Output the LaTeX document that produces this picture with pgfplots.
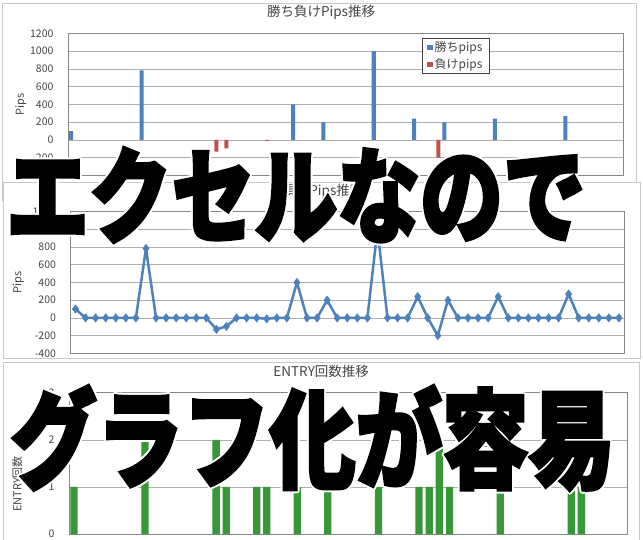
\documentclass[border=0pt]{standalone}
\usepackage{fontspec}
\setmainfont{Noto Sans CJK JP}
\newfontfamily\heavy[FakeBold=3]{Noto Sans CJK JP}
\usepackage{pgfplots}
\pgfplotsset{compat=1.18}
\usepackage{pgfplotstable}

\definecolor{xlblue}{RGB}{79,129,189}
\definecolor{xlred}{RGB}{192,80,77}
\definecolor{xlgreen}{RGB}{56,152,56}
\definecolor{gridgray}{RGB}{175,175,175}
\definecolor{axisgray}{RGB}{134,134,134}
\definecolor{framegray}{RGB}{200,200,200}
\definecolor{textgray}{RGB}{70,70,70}

\pgfplotstableread{
x win
1 100
8 785
23 400
26 200
31 1000
35 240
38 200
43 240
50 270
}\wintable

\pgfplotstableread{
x loss
15 -130
16 -95
20 -10
37 -200
}\losstable

\pgfplotstableread{
x pips
1 100
2 0
3 0
4 0
5 0
6 0
7 0
8 785
9 0
10 0
11 0
12 0
13 0
14 0
15 -130
16 -95
17 0
18 0
19 0
20 -10
21 0
22 0
23 400
24 0
25 0
26 200
27 0
28 0
29 0
30 0
31 1000
32 0
33 0
34 0
35 240
36 0
37 -200
38 200
39 0
40 0
41 0
42 0
43 240
44 0
45 0
46 0
47 0
48 0
49 0
50 270
51 0
52 0
53 0
54 0
55 0
}\pipstable

\pgfplotstableread{
x n
1 1
8 2
15 2
16 1
19 1
20 1
23 1
26 1
31 1
35 1
36 1
37 2
38 1
43 1
50 1
51 1
}\entrytable

\pgfplotsset{
  excel/.style={
    scale only axis,
    anchor=north west,
    axis background/.style={fill=white},
    xmin=0.5, xmax=55.5,
    xtick=\empty,
    ymajorgrids,
    grid style={draw=gridgray, line width=0.6pt},
    axis line style={draw=axisgray, line width=0.8pt},
    major tick length=0pt,
    ytick pos=left,
    yticklabel style={font=\fontsize{10.5}{10.5}\selectfont, text=textgray, anchor=east, xshift=-11pt},
    /pgf/number format/assume math mode=true,
    /pgf/number format/set thousands separator={},
    title style={font=\fontsize{13.5}{14}\selectfont, text=textgray, anchor=center},
    every axis y label/.style={rotate=90, anchor=center, font=\fontsize{11}{11}\selectfont, text=textgray},
    clip=false,
  }
}

\newcommand\ovA{エクセルなので}
\newcommand\ovB{グラフ化が容易}

\begin{document}
\begin{tikzpicture}
\useasboundingbox (0pt,0pt) rectangle (643pt,-540pt);
\clip (0pt,0pt) rectangle (643pt,-540pt);
\fill[white] (0pt,0pt) rectangle (643pt,-540pt);

% ---------- panel 1 ----------
\draw[framegray, fill=white, line width=0.8pt] (2pt,-3pt) rectangle (636pt,-200pt);
\begin{axis}[excel,
  at={(68pt,-33.5pt)}, width=555pt, height=142pt,
  ymin=-400, ymax=1200, ytick={-400,-200,...,1200},
  ybar, bar width=0.4,
  title={勝ち負けPips推移}, title style={at={(0.456,1.106)}},
  ylabel={Pips}, ylabel style={at={(-0.085,0.5)}},
  legend style={at={(0.638,0.968)}, anchor=north west, draw=black!75, fill=white,
    font=\fontsize{12}{13}\selectfont, text=textgray, inner xsep=5pt, inner ysep=1.5pt, row sep=1pt,
    line width=0.6pt},
  legend cell align=left,
]
\addplot[fill=xlblue, draw=none, bar shift=-0.2,
  legend image code/.code={\fill[xlblue] (0pt,-2.6pt) rectangle (5.2pt,2.6pt);}]
  table[x=x, y=win] {\wintable};
\addlegendentry{勝ちpips}
\addplot[fill=xlred, draw=none, bar shift=0.2,
  legend image code/.code={\fill[xlred] (0pt,-2.6pt) rectangle (5.2pt,2.6pt);}]
  table[x=x, y=loss] {\losstable};
\addlegendentry{負けpips}
\end{axis}

% ---------- panel 2 ----------
\draw[framegray, fill=white, line width=0.8pt] (3pt,-182pt) rectangle (640pt,-358pt);
\begin{axis}[excel,
  at={(70.5pt,-211.7pt)}, width=553.5pt, height=141.6pt,
  ymin=-400, ymax=1200, ytick={-400,-200,...,1200},
  title={損益Pips推移}, title style={at={(0.456,1.104)}},
  ylabel={Pips}, ylabel style={at={(-0.094,0.5)}},
]
\addplot[color=xlblue, line width=2.5pt, line join=round, mark=diamond*,
  mark size=4.2pt, mark options={solid, fill=xlblue, line width=0.5pt}]
  table[x=x, y=pips] {\pipstable};
\end{axis}

% ---------- panel 3 ----------
\draw[framegray, fill=white, line width=0.8pt] (3pt,-362pt) rectangle (639pt,-560pt);
\begin{axis}[excel,
  at={(69pt,-392.7pt)}, width=558pt, height=141.3pt,
  ymin=0, ymax=3, ytick={0,1,2,3},
  ybar, bar width=0.72,
  title={ENTRY回数推移}, title style={at={(0.452,1.111)}},
  ylabel={ENTRY回数}, ylabel style={at={(-0.093,0.354)}},
]
\addplot[fill=xlgreen, draw=none] table[x=x, y=n] {\entrytable};
\end{axis}

\node[draw=black!50, fill=white, font=\fontsize{8}{8}\selectfont, text=textgray,
  inner sep=1.2pt, anchor=north west] at (461pt,-446pt) {プロットエリア};

% ---------- overlay text ----------
\foreach \dx/\dy in {2/0,-2/0,0/2,0/-2,1.4/1.4,-1.4/1.4,1.4/-1.4,-1.4/-1.4}{
  \node[anchor=west, inner sep=0pt, xscale=0.9, yscale=1.13, transform shape, text=white]
    at (6pt+\dx pt,-195pt+\dy pt) {\heavy\bfseries\fontsize{92}{92}\selectfont\ovA};
  \node[anchor=west, inner sep=0pt, xscale=0.9, yscale=1.12, transform shape, text=white]
    at (10pt+\dx pt,-438pt+\dy pt) {\heavy\bfseries\fontsize{96}{96}\selectfont\ovB};
}
\node[anchor=west, inner sep=0pt, xscale=0.9, yscale=1.13, transform shape, text=black]
  at (6pt,-195pt) {\heavy\bfseries\fontsize{92}{92}\selectfont\ovA};
\node[anchor=west, inner sep=0pt, xscale=0.9, yscale=1.12, transform shape, text=black]
  at (10pt,-438pt) {\heavy\bfseries\fontsize{96}{96}\selectfont\ovB};
\end{tikzpicture}
\end{document}
